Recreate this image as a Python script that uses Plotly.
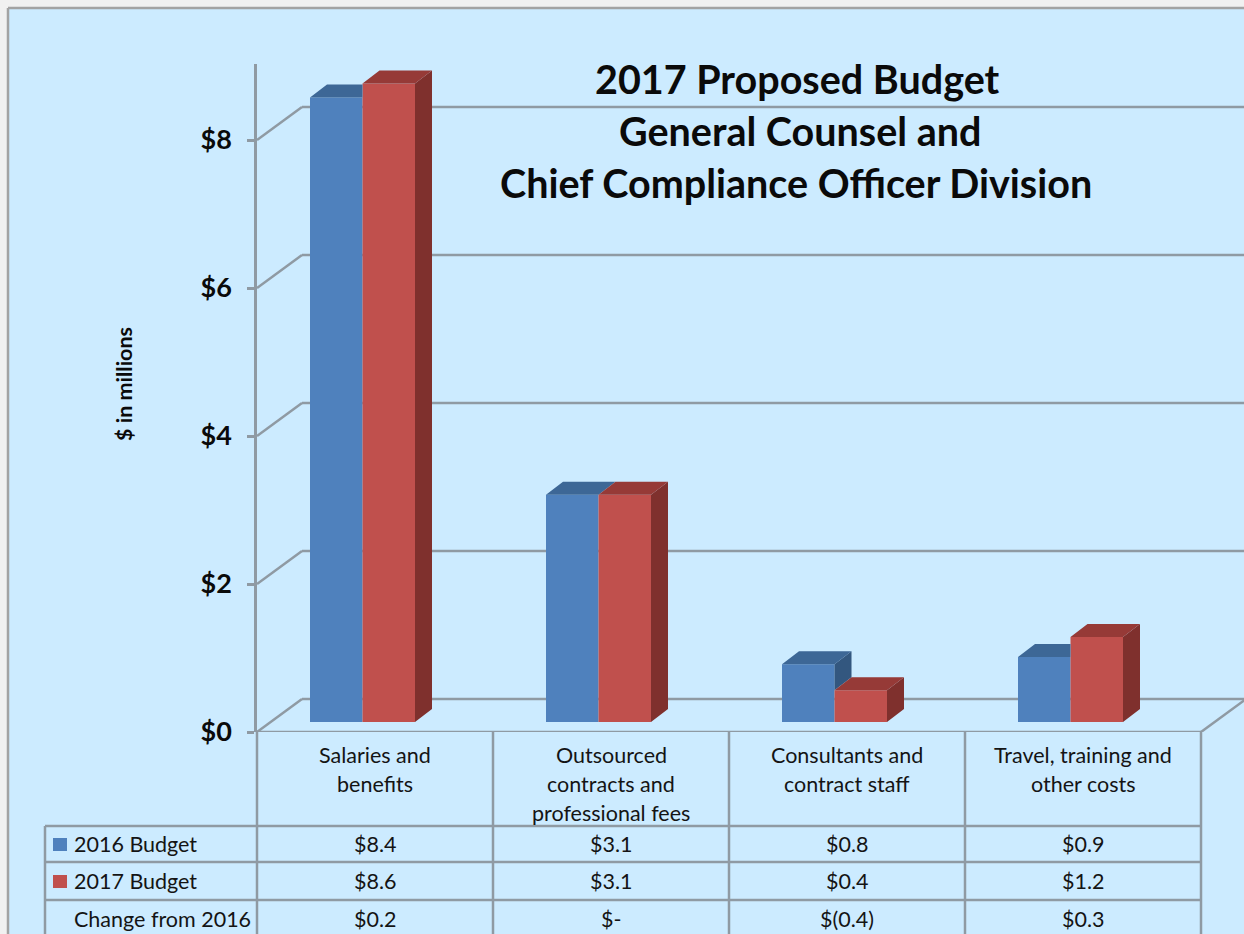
import plotly.graph_objects as go

# ---------- data ----------
categories = [["Salaries and", "benefits"],
              ["Outsourced", "contracts and", "professional fees"],
              ["Consultants and", "contract staff"],
              ["Travel, training and", "other costs"]]
budget_2016 = [8.44, 3.07, 0.78, 0.88]
budget_2017 = [8.63, 3.07, 0.43, 1.15]
row_names = ["2016 Budget", "2017 Budget", "Change from 2016"]
row_2016 = ["$8.4", "$3.1", "$0.8", "$0.9"]
row_2017 = ["$8.6", "$3.1", "$0.4", "$1.2"]
row_change = ["$0.2", "$-", "$(0.4)", "$0.3"]
y_ticks = [0, 2, 4, 6, 8]
y_ticktext = ["$0", "$2", "$4", "$6", "$8"]
title_lines = ["2017 Proposed Budget", "General Counsel and", "Chief Compliance Officer Division"]
y_title = "$ in millions"

# ---------- styling / geometry ----------
W, H = 1244, 934
L, T, B = 257, 64, 202
PX_PER_X, PX_PER_Y = 236.0, 74.0
plot_w, plot_h = W - L, H - T - B
FONT = "Lato"
BG = "#CCEBFF"
GRID = "#8F9AA3"
TEXT = "#141414"
BLUE, BLUE_TOP, BLUE_SIDE = "#4F81BD", "#3D6796", "#33577F"
RED, RED_TOP, RED_SIDE = "#C0504D", "#963A37", "#7F302D"
LW = 2.5

xmin = -0.5
xmax = xmin + plot_w / PX_PER_X
ymax = plot_h / PX_PER_Y
wall_dx, wall_dy = 45 / PX_PER_X, 33 / PX_PER_Y
bar_dx, bar_dy = 17 / PX_PER_X, 13 / PX_PER_Y
bar_base = 10 / PX_PER_Y
bar_w = 52.5 / PX_PER_X
off_blue = -65 / PX_PER_X
off_red = off_blue + bar_w


def px(x):
    return (x - L) / plot_w


def py(y):
    return (H - B - y) / plot_h


fig = go.Figure()
xs = list(range(len(categories)))

fig.add_trace(go.Bar(x=xs, y=budget_2016, base=bar_base, width=bar_w, offset=off_blue,
                     marker=dict(color=BLUE, line=dict(width=0)), name=row_names[0]))
fig.add_trace(go.Bar(x=xs, y=budget_2017, base=bar_base, width=bar_w, offset=off_red,
                     marker=dict(color=RED, line=dict(width=0)), name=row_names[1]))


def poly_trace(px_, py_, color):
    fig.add_trace(go.Scatter(x=px_, y=py_, mode="lines", fill="toself", fillcolor=color,
                             line=dict(width=0, color=color), hoverinfo="skip"))


# 3D faces, derived from the values
side_b_x, side_b_y, top_b_x, top_b_y = [], [], [], []
side_r_x, side_r_y, top_r_x, top_r_y = [], [], [], []
for i, (a, b) in enumerate(zip(budget_2016, budget_2017)):
    l_b = i + off_blue
    r_b = l_b + bar_w
    r_r = r_b + bar_w
    ta, tb = a + bar_base, b + bar_base
    # blue side: only the part that the red bar does not hide
    if ta > tb:
        side_b_x += [r_b, r_b + bar_dx, r_b + bar_dx, r_b, None]
        side_b_y += [ta, ta + bar_dy, tb + bar_dy, tb, None]
    # blue top: cut at the red bar's left edge when red is taller
    right = r_b if tb > ta else r_b + bar_dx
    top_b_x += [l_b, l_b + bar_dx, right, r_b, None]
    top_b_y += [ta, ta + bar_dy, ta + bar_dy, ta, None]
    # red faces
    side_r_x += [r_r, r_r + bar_dx, r_r + bar_dx, r_r, None]
    side_r_y += [tb, tb + bar_dy, bar_base + bar_dy, bar_base, None]
    top_r_x += [r_b, r_b + bar_dx, r_r + bar_dx, r_r, None]
    top_r_y += [tb, tb + bar_dy, tb + bar_dy, tb, None]

poly_trace(side_b_x, side_b_y, BLUE_SIDE)
poly_trace(top_b_x, top_b_y, BLUE_TOP)
poly_trace(side_r_x, side_r_y, RED_SIDE)
poly_trace(top_r_x, top_r_y, RED_TOP)

shapes = []


def line(x0, y0, x1, y1, xref="paper", yref="paper", width=LW, color=GRID, layer="below"):
    shapes.append(dict(type="line", x0=x0, y0=y0, x1=x1, y1=y1, xref=xref, yref=yref,
                       layer=layer, line=dict(color=color, width=width)))


def rect(x0, y0, x1, y1, color, layer="below"):
    shapes.append(dict(type="rect", x0=px(x0), x1=px(x1), y0=py(y0), y1=py(y1),
                       xref="paper", yref="paper", layer=layer, fillcolor=color,
                       line=dict(width=0)))


# outer frame of the screenshot
rect(0, 0, W, 8, "#F1F1F1")
rect(0, 0, 8, H, "#F1F1F1")
line(px(8), py(8), px(W), py(8), color="#A3A3A3")
line(px(8), py(8), px(8), py(H), color="#A3A3A3")

# back wall gridlines with diagonals to the axis
for v in y_ticks:
    line(xmin, v, xmin + wall_dx, v + wall_dy, "x", "y")
    line(xmin + wall_dx, v + wall_dy, xmax, v + wall_dy, "x", "y")
# floor
last = len(categories) - 0.5
line(xmin, 0, last, 0, "x", "y")
line(last, 0, last + wall_dx, wall_dy, "x", "y")

# data table grid
row_lines = [826, 862, 900]
for i in range(len(categories) + 1):
    x = px(L + PX_PER_X * i)
    line(x, py(732), x, py(H))
for y in row_lines:
    line(px(45), py(y), px(1200), py(y))
line(px(45), py(826), px(45), py(H))

# legend keys
rect(53, 838, 67, 851, BLUE)
rect(53, 875, 67, 888, RED)

ann = []


def text(x, y, s, size=21.5, bold=False, xref="paper", anchor="center", angle=0, color=TEXT):
    ann.append(dict(x=x, y=py(y), xref=xref, yref="paper", text=f"<b>{s}</b>" if bold else s,
                    showarrow=False, xanchor=anchor, yanchor="middle", textangle=angle,
                    font=dict(family=FONT, size=size, color=color)))


for s, x, y in zip(title_lines, [797, 800, 796], [79, 130.5, 182.5]):
    text(px(x), y, s, size=39.5, bold=True, color="#0A0A0A")
text(px(124), 384, y_title, size=21.5, bold=True, angle=-90, color="#0A0A0A")

for i, lines in enumerate(categories):
    for j, s in enumerate(lines):
        text(i, 754.5 + 29 * j, s, xref="x")
for row, y in zip([row_2016, row_2017, row_change], [844, 881, 919]):
    for i, s in enumerate(row):
        text(i, y, s, xref="x")
for s, y in zip(row_names, [844, 881, 919]):
    text(px(72), y, s, anchor="left")

fig.update_layout(
    width=W, height=H, autosize=False,
    margin=dict(l=L, r=0, t=T, b=B, pad=0),
    paper_bgcolor=BG, plot_bgcolor=BG,
    showlegend=False, barmode="overlay",
    shapes=shapes, annotations=ann,
    hovermode=False,
    xaxis=dict(range=[xmin, xmax], showgrid=False, zeroline=False, showline=False,
               showticklabels=False, ticks=""),
    yaxis=dict(range=[0, ymax], tickmode="array", tickvals=y_ticks, ticktext=y_ticktext,
               showgrid=False, zeroline=False, showline=True, linecolor=GRID, linewidth=2.5,
               ticks="outside", ticklen=7, tickwidth=2.5, tickcolor=GRID, ticklabelstandoff=10,
               tickfont=dict(family=FONT, size=27, color="#0A0A0A", weight="bold")),
)

fig.write_html("out.html", config=dict(displayModeBar=False),
               post_script="document.body.style.margin='0';document.documentElement.style.overflow='hidden';")
